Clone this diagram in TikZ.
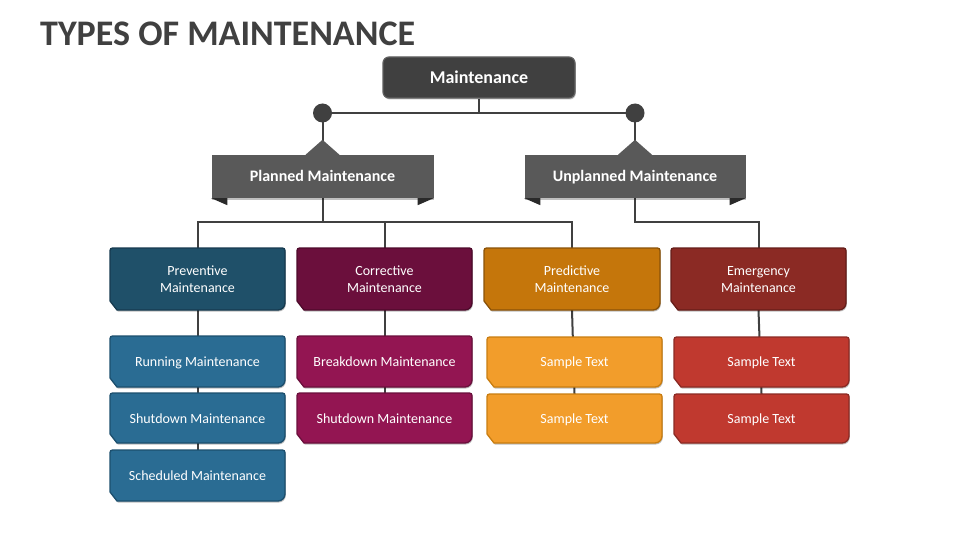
\documentclass[tikz,border=0pt]{standalone}
\usepackage{fontspec}
\setmainfont{Carlito}
\usetikzlibrary{shadows}
\definecolor{dk}{HTML}{404040}
\definecolor{bannerc}{HTML}{595959}
\definecolor{tabc}{HTML}{2A2A2A}
\definecolor{prevF}{HTML}{1F5069}\definecolor{prevD}{HTML}{163A4F}
\definecolor{corrF}{HTML}{6B0F3C}\definecolor{corrD}{HTML}{4D0A2B}
\definecolor{predF}{HTML}{C5760B}\definecolor{predD}{HTML}{8A5208}
\definecolor{emerF}{HTML}{8B2A24}\definecolor{emerD}{HTML}{651D19}
\definecolor{runF}{HTML}{2A6C93}\definecolor{runD}{HTML}{1C4F6E}
\definecolor{brkF}{HTML}{931552}\definecolor{brkD}{HTML}{6B0F3C}
\definecolor{orF}{HTML}{F29D2B}\definecolor{orD}{HTML}{C97D10}
\definecolor{rdF}{HTML}{C0392F}\definecolor{rdD}{HTML}{8B2A24}
\pgfdeclarelayer{bg}
\pgfdeclarelayer{paper}
\pgfsetlayers{paper,bg,main}
\tikzset{
  conn/.style={draw=dk, line width=2pt},
  sh/.style={drop shadow={opacity=0.25, shadow xshift=0.8pt, shadow yshift=-1.5pt, fill=black}},
  boxpath/.style={line width=1.3pt, sh},
  boxtext/.style={text=white, font=\fontsize{14}{17}\selectfont, align=center, inner sep=0pt},
  bannerbox/.style={fill=bannerc, minimum height=43pt, text height=12pt, text depth=1pt, text=white, font=\fontsize{16}{19}\selectfont\bfseries, sh},
}
\newcommand\catstrut{\rule{0pt}{10.5pt}}
\newcommand\substrut{\rule[-2pt]{0pt}{14pt}}
\newcommand\chbox[8]{%
  \draw[boxpath, fill=#6, draw=#7] (#2+7,#5) -- (#2,#5-9) [rounded corners=2.5pt] -- (#2,#3) -- (#4,#3) [rounded corners=7pt] -- (#4,#5) [sharp corners] -- cycle;
  \node[boxtext, minimum width={(#4-#2)*1pt}, minimum height={(#5-#3)*1pt}] (#1) at ({(#2+#4)/2},{(#3+#5)/2}) {#8};
}
\begin{document}
\begin{tikzpicture}[x=1pt,y=-1pt]
\begin{pgfonlayer}{paper}
\fill[white] (0,0) rectangle (960,540);
\end{pgfonlayer}
\useasboundingbox (0,0) rectangle (960,540);
% title
\node[anchor=base west, text=dk, font=\fontsize{36}{42}\selectfont\bfseries, inner sep=0pt] (title) at (40,46) {TYPES OF MAINTENANCE};
% top box
\node[fill=dk, draw=gray!75!black, line width=1.2pt, rounded corners=6pt, minimum width=192pt, minimum height=41pt, text=white, font=\fontsize{18}{21}\selectfont\bfseries, sh] (main) at (479,77.5) {Maintenance};
% circles
\node[circle, fill=dk, minimum size=19pt, inner sep=0pt] (cl) at (322.5,113) {};
\node[circle, fill=dk, minimum size=19pt, inner sep=0pt] (cr) at (635,113) {};
% banners
\node[bannerbox, minimum width=222pt] (planned) at (322.5,176.5) {Planned Maintenance};
\node[bannerbox, minimum width=221pt] (unplanned) at (635,176.5) {Unplanned Maintenance};
\fill[bannerc] ([yshift=15pt]planned.north) -- ++(17,15) -- ++(-34,0) -- cycle;
\fill[bannerc] ([yshift=15pt]unplanned.north) -- ++(17,15) -- ++(-34,0) -- cycle;
\fill[tabc] (planned.south west) -- ++(16,0) -- ++(0,7) -- cycle;
\fill[tabc] (planned.south east) -- ++(-16,0) -- ++(0,7) -- cycle;
\fill[tabc] (unplanned.south west) -- ++(16,0) -- ++(0,7) -- cycle;
\fill[tabc] (unplanned.south east) -- ++(-16,0) -- ++(0,7) -- cycle;
% category boxes
\chbox{prev}{110}{248}{285}{310}{prevF}{prevD}{\catstrut Preventive\\Maintenance}
\chbox{corr}{297}{248}{472}{310}{corrF}{corrD}{\catstrut Corrective\\Maintenance}
\chbox{pred}{484}{248}{660}{310}{predF}{predD}{\catstrut Predictive\\Maintenance}
\chbox{emer}{671}{248}{846}{310}{emerF}{emerD}{\catstrut Emergency\\Maintenance}
% sub boxes
\chbox{p1}{110}{336}{285}{387}{runF}{runD}{\substrut Running Maintenance}
\chbox{p2}{110}{393}{285}{443}{runF}{runD}{\substrut Shutdown Maintenance}
\chbox{p3}{110}{450}{285}{501}{runF}{runD}{\substrut Scheduled Maintenance}
\chbox{c1}{297}{336}{472}{387}{brkF}{brkD}{\substrut Breakdown Maintenance}
\chbox{c2}{297}{393}{472}{443}{brkF}{brkD}{\substrut Shutdown Maintenance}
\chbox{o1}{487}{337}{662}{387}{orF}{orD}{\substrut Sample Text}
\chbox{o2}{487}{394}{662}{443}{orF}{orD}{\substrut Sample Text}
\chbox{e1}{674}{337}{849}{387}{rdF}{rdD}{\substrut Sample Text}
\chbox{e2}{674}{394}{849}{443}{rdF}{rdD}{\substrut Sample Text}
% connectors
\begin{pgfonlayer}{bg}
\draw[conn] (cl.center) -- (cr.center);
\draw[conn] (main.south) -- (main.south |- cl.center);
\draw[conn] (cl.center) -- (planned.north);
\draw[conn] (cr.center) -- (unplanned.north);
\coordinate (pj) at (322.5,222);
\draw[conn] (planned.south) -- (pj);
\draw[conn] (prev.north) |- (pj);
\draw[conn] (pred.north) |- (pj);
\draw[conn] (corr.north) -- (corr.north |- pj);
\draw[conn] (unplanned.south) -- ++(0,24) -| (emer.north);
\draw[conn] (prev.south) -- (p3.north);
\draw[conn] (corr.south) -- (c2.north);
\draw[conn] (pred.south) -- (o2.north);
\draw[conn] (emer.south) -- (e2.north);
\end{pgfonlayer}
\end{tikzpicture}
\end{document}
